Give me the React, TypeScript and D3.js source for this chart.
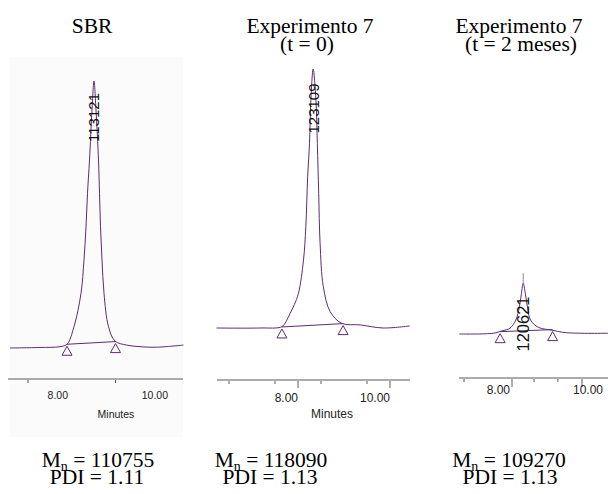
import React from "react";
import * as d3 from "d3";

// ---- data (time in minutes, detector signal in relative units) ----
const sbrTrace: [number, number][] = [
  [6.84, 0], [7.44, 0.2], [7.84, 0.5], [7.98, 1.4], [8.12, 8.0], [8.26, 20.5], [8.32, 33.0],
  [8.36, 45.4], [8.39, 57.9], [8.43, 70.4], [8.48, 89.1], [8.52, 100], [8.56, 89.1],
  [8.61, 70.4], [8.63, 57.9], [8.65, 45.4], [8.68, 33.0], [8.72, 20.5], [8.81, 8.0],
  [8.94, 2.6], [9.17, 1.1], [9.44, 0.5], [9.77, 0.3], [10.31, 1.1],
];
const exp0Trace: [number, number][] = [
  [6.23, 0], [7.17, 0], [7.65, 0.5], [7.74, 2.5], [7.83, 5.7], [7.92, 9.0], [8.01, 13.4],
  [8.12, 26.3], [8.17, 39.1], [8.21, 58.4], [8.25, 71.3], [8.28, 88], [8.33, 100], [8.39, 88],
  [8.42, 71.3], [8.45, 52], [8.48, 32.7], [8.55, 16], [8.7, 6.3], [8.95, 1.8], [9.35, 1.2],
  [9.85, 0], [10.43, 0.8],
];
const exp2Trace: [number, number][] = [
  [6.49, 0], [7.47, 0.3], [7.71, 1.2], [7.94, 2.2], [8.11, 5.4], [8.21, 10.5], [8.27, 15.7],
  [8.32, 19.6], [8.38, 15.7], [8.44, 10.5], [8.53, 5.4], [8.75, 2.6], [9.13, 1.5],
  [9.56, 0.5], [10.74, 0.3],
];
// integration start / end points [time, signal]
const sbrBounds: [number, number][] = [[7.98, 1.4], [8.95, 2.4]];
const exp0Bounds: [number, number][] = [[7.65, 0.4], [8.98, 1.7]];
const exp2Bounds: [number, number][] = [[7.66, 0.9], [9.16, 1.7]];
const peakLabels = ["113121", "123109", "120621"];
const peakTimes = [8.52, 8.33, 8.32];
const titlesLine1 = ["SBR", "Experimento 7", "Experimento 7"];
const titlesLine2 = ["", "(t = 0)", "(t = 2 meses)"];
const mnValues = ["110755", "118090", "109270"];
const pdiValues = ["1.11", "1.13", "1.13"];
const majorTicks = [8, 10];
const majorTickLabels = ["8.00", "10.00"];
const minorTicks1 = [7.2, 8.95];
const minorTicks2 = [6.5, 7.5, 8.5, 9.5];
const minorTicks3 = [6.63, 8.63, 9.31];
const axisTitle = "Minutes";

const TRACE = "#5c2d6e";
const AXIS = "#5a5a5a";
const SERIF = "'Liberation Serif', 'Times New Roman', serif";
const SANS = "'Liberation Sans', Arial, sans-serif";

type Panel = {
  trace: [number, number][];
  bounds: [number, number][];
  x: d3.ScaleLinear<number, number>;
  y: d3.ScaleLinear<number, number>;
  axisX: [number, number];
  axisY: number;
  minor: number[];
  majorLen: number;
  showMajor: boolean;
  tickFont: number;
  tickLabelY: number;
  tickLabelDx: number[];
  showTitle: boolean;
  titleY: number;
  labelFont: number;
  labelCenterY: number;
  title1X: number;
  title2X: number;
  mnX: number;
  pdiX: number;
  apexLine: boolean;
};

const panels: Panel[] = [
  {
    trace: sbrTrace, bounds: sbrBounds,
    x: d3.scaleLinear().domain([8, 10]).range([68, 168]),
    y: d3.scaleLinear().domain([0, 100]).range([348, 81]),
    axisX: [8, 183], axisY: 379, minor: minorTicks1, majorLen: 0, showMajor: false,
    tickFont: 10.5, tickLabelY: 399, tickLabelDx: [0, 0], showTitle: true, titleY: 418,
    labelFont: 15, labelCenterY: 117.5, title1X: 92, title2X: 92, mnX: 98, pdiX: 97, apexLine: false,
  },
  {
    trace: exp0Trace, bounds: exp0Bounds,
    x: d3.scaleLinear().domain([8, 10]).range([298, 390]),
    y: d3.scaleLinear().domain([0, 100]).range([328, 69]),
    axisX: [217, 410], axisY: 380, minor: minorTicks2, majorLen: 8, showMajor: true,
    tickFont: 12, tickLabelY: 402, tickLabelDx: [0, 0], showTitle: true, titleY: 418,
    labelFont: 15, labelCenterY: 108.5, title1X: 310, title2X: 307, mnX: 271, pdiX: 270, apexLine: false,
  },
  {
    trace: exp2Trace, bounds: exp2Bounds,
    x: d3.scaleLinear().domain([8, 10]).range([512, 582]),
    y: d3.scaleLinear().domain([0, 100]).range([334, 75]),
    axisX: [459, 608], axisY: 378, minor: minorTicks3, majorLen: 9, showMajor: true,
    tickFont: 12, tickLabelY: 394, tickLabelDx: [-2, 21], showTitle: false, titleY: 0,
    labelFont: 16.5, labelCenterY: 324, title1X: 519, title2X: 521, mnX: 509, pdiX: 510, apexLine: true,
  },
];

const TITLE_FONT = 21.5;

function PanelView({ p, i }: { p: Panel; i: number }) {
  const line = d3
    .line<[number, number]>()
    .x((d) => p.x(d[0]))
    .y((d) => p.y(d[1]))
    .curve(d3.curveCatmullRom.alpha(0.5));
  const straight = d3
    .line<[number, number]>()
    .x((d) => p.x(d[0]))
    .y((d) => p.y(d[1]));
  const apexT = peakTimes[i];
  const apexS = d3.max(p.trace, (d) => d[1]) as number;
  const ax = p.x(apexT);
  return (
    <g>
      {p.apexLine && (
        <line x1={ax} x2={ax} y1={p.y(apexS) - 10} y2={p.y(apexS)} stroke="#8a8a8a" strokeWidth={1} />
      )}
      <path d={line(p.trace) || ""} fill="none" stroke={TRACE} strokeWidth={1} />
      <path d={straight(p.bounds) || ""} fill="none" stroke={TRACE} strokeWidth={1} />
      {p.bounds.map((b, k) => {
        const bx = p.x(b[0]);
        const by = p.y(b[1]) + 2;
        return (
          <path key={k} d={`M${bx},${by}L${bx - 5},${by + 9}L${bx + 5},${by + 9}Z`} fill="none" stroke={TRACE} strokeWidth={1} />
        );
      })}
      <text
        transform={`translate(${ax},${p.labelCenterY}) rotate(-90)`}
        textAnchor="middle" dy="0.36em" fontFamily={SANS} fontSize={p.labelFont} fill="#111"
      >
        {peakLabels[i]}
      </text>
      {/* axis */}
      <line x1={p.axisX[0]} x2={p.axisX[1]} y1={p.axisY} y2={p.axisY} stroke={AXIS} strokeWidth={1.2} />
      {p.minor.map((t, k) => (
        <line key={"m" + k} x1={p.x(t)} x2={p.x(t)} y1={p.axisY + 1} y2={p.axisY + 4} stroke={AXIS} strokeWidth={1} />
      ))}
      {p.showMajor && majorTicks.map((t, k) => (
        <line key={"M" + k} x1={p.x(t)} x2={p.x(t)} y1={p.axisY + 1} y2={p.axisY + p.majorLen} stroke={AXIS} strokeWidth={1} />
      ))}
      {majorTicks.map((t, k) => (
        <text key={"l" + k} x={p.x(t) + p.tickLabelDx[k]} y={p.tickLabelY} textAnchor="end" fontFamily={SANS} fontSize={p.tickFont} fill="#222">
          {majorTickLabels[k]}
        </text>
      ))}
      {p.showTitle && (
        <text x={p.x(9) + (i === 0 ? -2 : -12)} y={p.titleY} textAnchor="middle" fontFamily={SANS} fontSize={p.tickFont} fill="#222">
          {axisTitle}
        </text>
      )}
      {/* titles */}
      <text x={p.title1X} y={33} textAnchor="middle" fontFamily={SERIF} fontSize={TITLE_FONT} fill="#000">{titlesLine1[i]}</text>
      {titlesLine2[i] && (
        <text x={p.title2X} y={51} textAnchor="middle" fontFamily={SERIF} fontSize={TITLE_FONT} fill="#000">{titlesLine2[i]}</text>
      )}
      {/* results */}
      <text x={p.mnX} y={466.5} textAnchor="middle" fontFamily={SERIF} fontSize={TITLE_FONT} fill="#000">
        M<tspan fontSize={14} dy={4}>n</tspan><tspan dy={-4}>{" = " + mnValues[i]}</tspan>
      </text>
      <text x={p.pdiX} y={484} textAnchor="middle" fontFamily={SERIF} fontSize={TITLE_FONT} fill="#000">
        {"PDI = " + pdiValues[i]}
      </text>
    </g>
  );
}

export default function App() {
  return (
    <svg width={608} height={494} style={{ position: "absolute", left: 0, top: 0, background: "#fff" }}>
      <rect x={0} y={0} width={608} height={494} fill="#fff" />
      <rect x={10} y={57} width={173} height={380} fill="#fbfbfb" />
      {panels.map((p, i) => (
        <PanelView key={i} p={p} i={i} />
      ))}
    </svg>
  );
}
